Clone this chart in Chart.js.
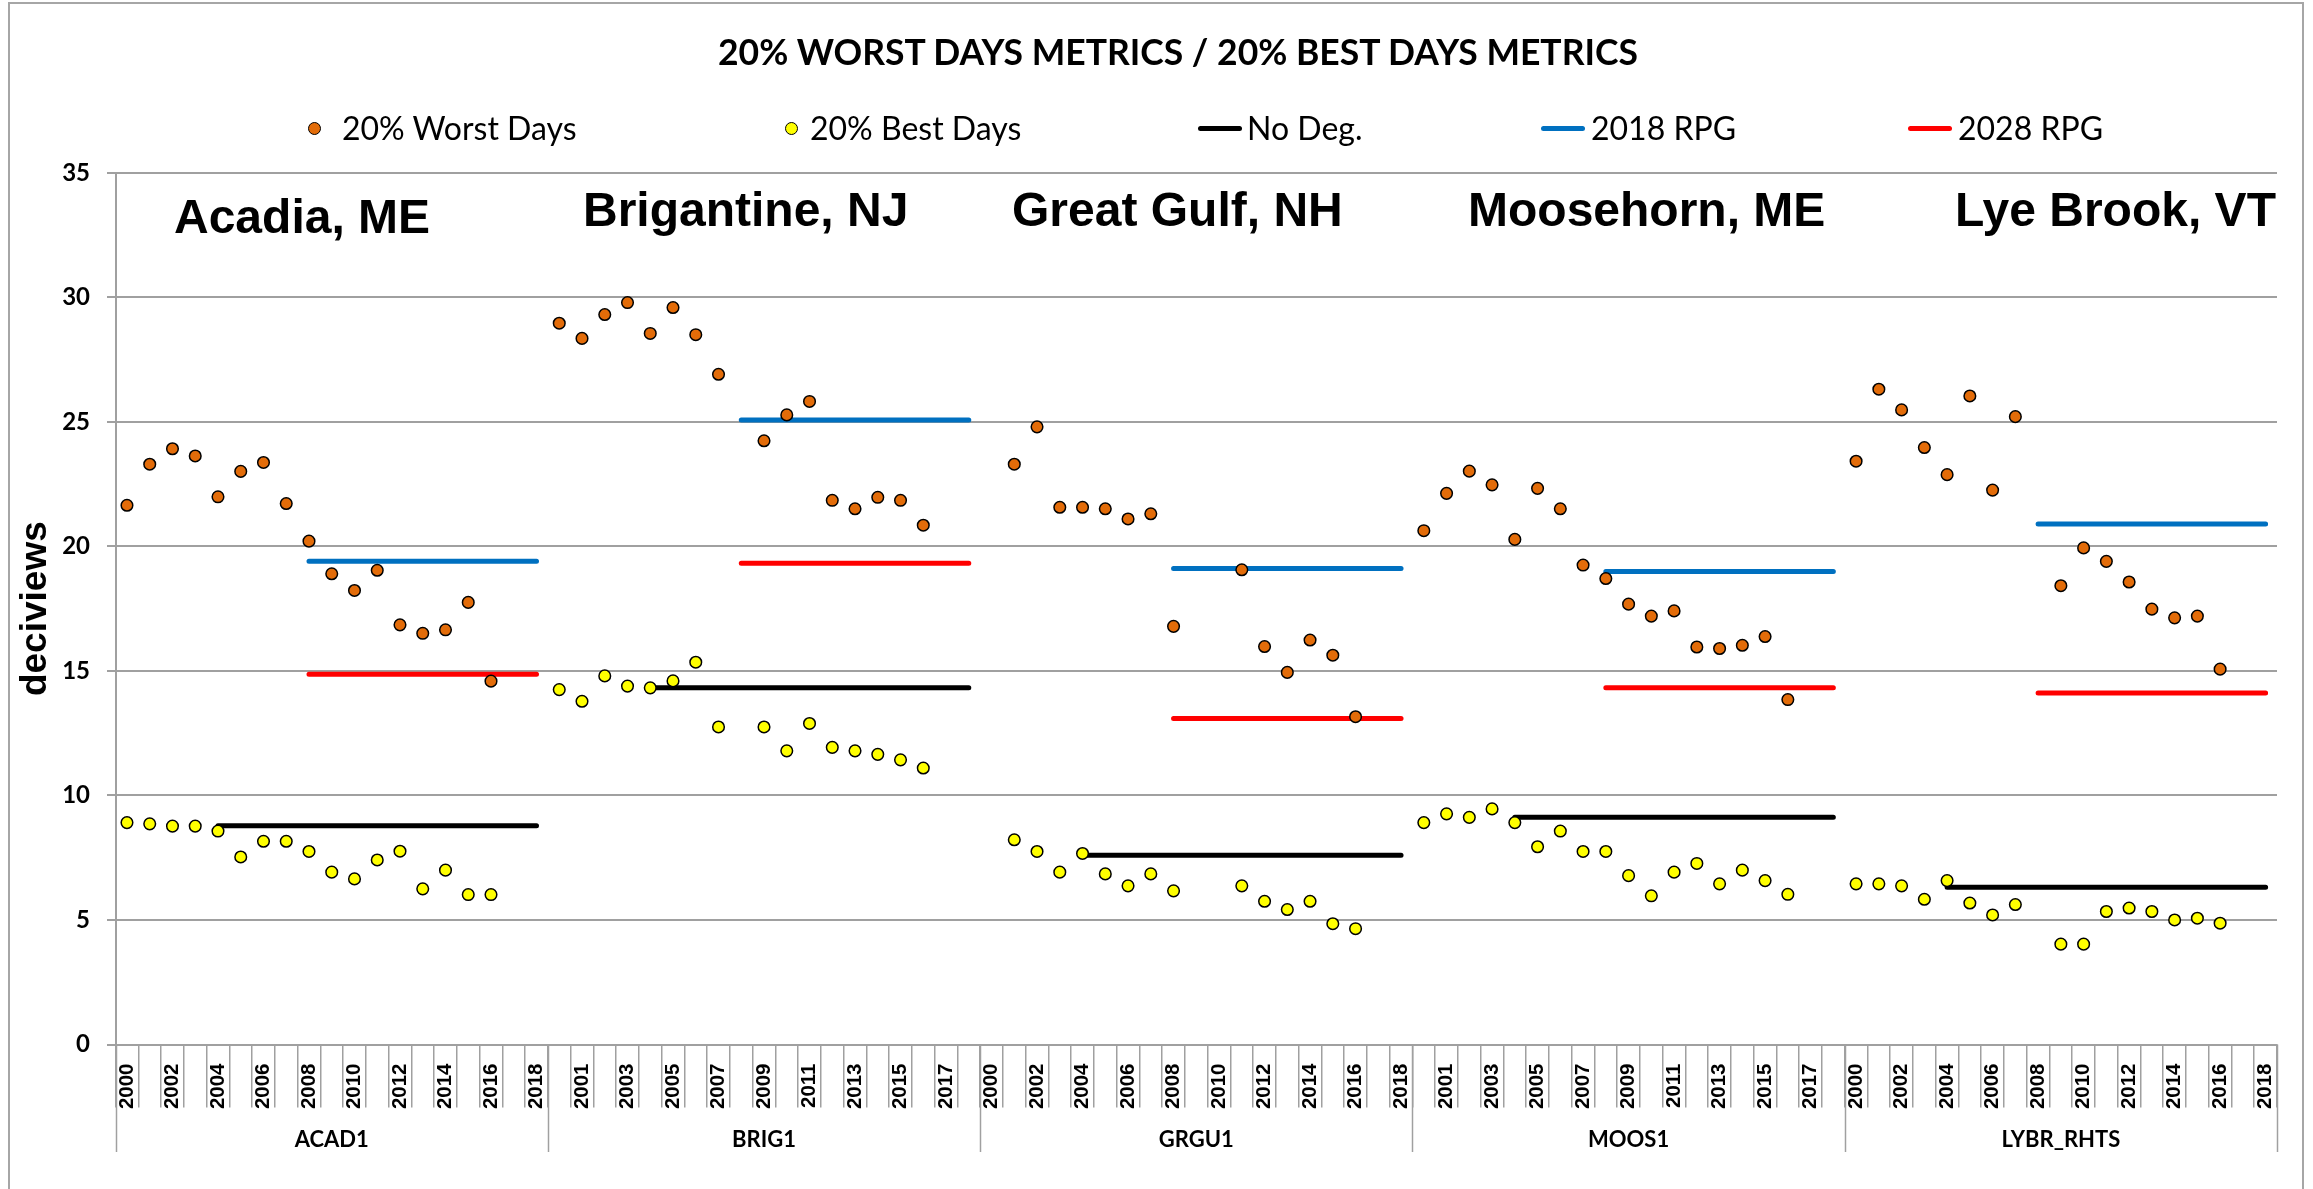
<!DOCTYPE html>
<html>
<head>
<meta charset="utf-8">
<script src="https://cdn.jsdelivr.net/npm/chart.js@4.4.1/dist/chart.umd.min.js"></script>
<style>
  html, body { margin: 0; padding: 0; background: #fff; }
  body { width: 2313px; height: 1189px; position: relative; overflow: hidden; font-family: Lato, sans-serif; }
  #marco { position: absolute; left: 8px; top: 2px; width: 2296px; height: 1220px; border: 2px solid #a6a6a6; border-bottom: none; box-sizing: border-box; }
  #grafico { position: absolute; left: 0; top: 0; }
  #titulo { position: absolute; top: 34px; left: 1178px; transform: translateX(-50%); white-space: nowrap;
            font: bold 35.5px/1 Lato, sans-serif; color: #000; }
  .leyenda { position: absolute; top: 112px; height: 32px; font: 32px/1 Lato, sans-serif; color: #000; white-space: nowrap; }
  .punto { position: absolute; width: 11px; height: 11px; border: 1.5px solid #000; border-radius: 50%; }
  .raya { position: absolute; height: 5px; border-radius: 3px; }
  .sitio { position: absolute; font: bold 48px/1 "Liberation Sans", Arial, sans-serif; color: #000; white-space: nowrap; }
</style>
</head>
<body>
<div id="marco"></div>
<canvas id="grafico" width="2313" height="1189" style="width:2313px;height:1189px"></canvas>
<div id="titulo">20% WORST DAYS METRICS / 20% BEST DAYS METRICS</div>
<div id="capaLeyenda"></div>
<div id="capaSitios"></div>
<script>
// Años de cada sitio (2000-2018)
const anios = [2000, 2001, 2002, 2003, 2004, 2005, 2006, 2007, 2008, 2009,
               2010, 2011, 2012, 2013, 2014, 2015, 2016, 2017, 2018];
const sitios = ['ACAD1', 'BRIG1', 'GRGU1', 'MOOS1', 'LYBR_RHTS'];
const nombresSitios = ['Acadia, ME', 'Brigantine, NJ', 'Great Gulf, NH', 'Moosehorn, ME', 'Lye Brook, VT'];

// 20% peores días (deciviews), null = sin dato
const peoresACAD = [21.65, 23.30, 23.92, 23.63, 21.99, 23.01, 23.37, 21.72, 20.21, 18.90, 18.23, 19.04, 16.85, 16.51, 16.65, 17.75, 14.59, null, null];
const peoresBRIG = [28.96, 28.35, 29.31, 29.79, 28.55, 29.59, 28.50, 26.91, null, 24.24, 25.28, 25.82, 21.85, 21.51, 21.97, 21.85, 20.85, null, null];
const peoresGRGU = [null, 23.30, 24.80, 21.57, 21.57, 21.51, 21.10, 21.31, 16.79, null, null, 19.06, 15.98, 14.94, 16.24, 15.63, 13.16, null, null];
const peoresMOOS = [20.63, 22.13, 23.02, 22.47, 20.28, 22.33, 21.51, 19.25, 18.71, 17.68, 17.20, 17.41, 15.96, 15.90, 16.03, 16.38, 13.85, null, null];
const peoresLYBR = [23.42, 26.31, 25.48, 23.97, 22.88, 26.04, 22.26, 25.21, null, 18.42, 19.94, 19.40, 18.57, 17.48, 17.13, 17.20, 15.07, null, null];

// 20% mejores días (deciviews)
const mejoresACAD = [8.91, 8.86, 8.77, 8.77, 8.57, 7.53, 8.16, 8.16, 7.75, 6.92, 6.65, 7.41, 7.76, 6.25, 7.00, 6.02, 6.02, null, null];
const mejoresBRIG = [14.25, 13.78, 14.80, 14.39, 14.32, 14.60, 15.35, 12.75, null, 12.75, 11.79, 12.89, 11.93, 11.79, 11.65, 11.43, 11.10, null, null];
const mejoresGRGU = [null, 8.22, 7.75, 6.92, 7.67, 6.85, 6.37, 6.85, 6.17, null, null, 6.37, 5.75, 5.42, 5.75, 4.85, 4.65, null, null];
const mejoresMOOS = [8.91, 9.26, 9.12, 9.46, 8.91, 7.94, 8.57, 7.75, 7.75, 6.78, 5.97, 6.92, 7.27, 6.45, 7.00, 6.58, 6.03, null, null];
const mejoresLYBR = [6.45, 6.45, 6.37, 5.83, 6.58, 5.68, 5.20, 5.62, null, 4.03, 4.03, 5.34, 5.48, 5.34, 5.00, 5.07, 4.87, null, null];

// Líneas de referencia por sitio
const sinDegradacion = [8.78, 14.32, 7.60, 9.12, 6.31];
const rpg2018 = [19.40, 25.07, 19.11, 18.99, 20.90];
const rpg2028 = [14.87, 19.32, 13.09, 14.32, 14.11];
const inicioSinDeg = 2004;
const inicioRPG = 2008;

const ticksY = [0, 5, 10, 15, 20, 25, 30, 35];

// Armar las series para el eje de 95 categorías
const etiquetas = sitios.flatMap(() => anios.map(String));
const peores = [].concat(peoresACAD, peoresBRIG, peoresGRGU, peoresMOOS, peoresLYBR);
const mejores = [].concat(mejoresACAD, mejoresBRIG, mejoresGRGU, mejoresMOOS, mejoresLYBR);

function lineaPorSitio(valores, desde) {
  return sitios.flatMap((s, i) => anios.map(a => a >= desde ? valores[i] : null));
}

const naranja = '#E36C09';
const gris = '#a0a0a0';

// Decoración del eje x: separadores de grupo y nombres de estación
const ejeCategorias = {
  id: 'ejeCategorias',
  afterDraw(chart) {
    const x = chart.scales.x;
    const ctx = chart.ctx;
    const abajo = chart.chartArea.bottom;
    const ancho = x.getPixelForValue(1) - x.getPixelForValue(0);
    ctx.save();
    ctx.strokeStyle = gris;
    ctx.lineWidth = 1.5;
    for (let g = 0; g <= sitios.length; g++) {
      const px = Math.round(x.getPixelForValue(g * anios.length) - ancho / 2) + 0.5;
      ctx.beginPath();
      ctx.moveTo(px, abajo);
      ctx.lineTo(px, 1152);
      ctx.stroke();
    }
    ctx.fillStyle = '#000';
    ctx.font = 'bold 22px Lato';
    ctx.textAlign = 'center';
    ctx.textBaseline = 'alphabetic';
    sitios.forEach((s, g) => {
      const centro = x.getPixelForValue(g * anios.length + 9);
      ctx.fillText(s, centro, 1147);
    });
    ctx.restore();
  }
};

new Chart(document.getElementById('grafico'), {
  type: 'line',
  data: {
    labels: etiquetas,
    datasets: [
      {
        label: '20% Worst Days',
        data: peores,
        showLine: false,
        pointRadius: 5.8,
        pointBorderWidth: 1.5,
        pointBackgroundColor: naranja,
        pointBorderColor: '#000',
        backgroundColor: naranja,
        borderColor: '#000'
      },
      {
        label: '20% Best Days',
        data: mejores,
        showLine: false,
        pointRadius: 5.8,
        pointBorderWidth: 1.5,
        pointBackgroundColor: '#FFFF00',
        pointBorderColor: '#000',
        backgroundColor: '#FFFF00',
        borderColor: '#000'
      },
      {
        label: 'No Deg.',
        data: lineaPorSitio(sinDegradacion, inicioSinDeg),
        borderColor: '#000000',
        borderWidth: 5,
        borderCapStyle: 'round',
        pointRadius: 0,
        spanGaps: false
      },
      {
        label: '2018 RPG',
        data: lineaPorSitio(rpg2018, inicioRPG),
        borderColor: '#0070C0',
        borderWidth: 5,
        borderCapStyle: 'round',
        pointRadius: 0,
        spanGaps: false
      },
      {
        label: '2028 RPG',
        data: lineaPorSitio(rpg2028, inicioRPG),
        borderColor: '#FF0000',
        borderWidth: 5,
        borderCapStyle: 'round',
        pointRadius: 0,
        spanGaps: false
      }
    ]
  },
  options: {
    responsive: false,
    maintainAspectRatio: false,
    animation: false,
    devicePixelRatio: 1,
    layout: { padding: { left: 6, top: 172.8, right: 36, bottom: 0 } },
    plugins: {
      legend: { display: false },
      title: { display: false },
      tooltip: { enabled: false }
    },
    scales: {
      x: {
        offset: true,
        afterFit: s => { s.height = 1189 - 1044.5; },
        grid: {
          offset: true,
          drawOnChartArea: false,
          drawTicks: true,
          tickLength: 63,
          color: gris,
          lineWidth: 1.5
        },
        border: { display: true, color: gris, width: 2 },
        ticks: {
          autoSkip: false,
          minRotation: 90,
          maxRotation: 90,
          padding: -44,
          color: '#000',
          font: { family: 'Liberation Sans', weight: 'bold', size: 20.5 },
          callback: function (val, idx) {
            return idx % 2 === 0 ? this.getLabelForValue(val) : '';
          }
        }
      },
      y: {
        min: ticksY[0],
        max: ticksY[ticksY.length - 1],
        afterFit: s => { s.width = 115.6 - 6; },
        afterBuildTicks: s => { s.ticks = ticksY.map(v => ({ value: v })); },
        grid: { color: gris, lineWidth: 2, tickLength: 8.6 },
        border: { display: true, color: gris, width: 2 },
        ticks: {
          padding: 17,
          color: '#000',
          font: { family: 'Lato', weight: 'bold', size: 24 }
        },
        title: {
          display: true,
          text: 'deciviews',
          color: '#000',
          padding: { top: 8, bottom: 0 },
          font: { family: 'Liberation Sans', weight: 'bold', size: 37 }
        }
      }
    }
  },
  plugins: [ejeCategorias]
});

// Leyenda (posiciones como en la lámina original)
const itemsLeyenda = [
  { texto: '20% Worst Days', tipo: 'punto', color: naranja, marca: 308, txt: 342 },
  { texto: '20% Best Days', tipo: 'punto', color: '#FFFF00', marca: 785, txt: 810 },
  { texto: 'No Deg.', tipo: 'raya', color: '#000000', marca: 1198, txt: 1247 },
  { texto: '2018 RPG', tipo: 'raya', color: '#0070C0', marca: 1541, txt: 1591 },
  { texto: '2028 RPG', tipo: 'raya', color: '#FF0000', marca: 1908, txt: 1958 }
];
const capaLeyenda = document.getElementById('capaLeyenda');
itemsLeyenda.forEach(it => {
  const m = document.createElement('div');
  m.className = it.tipo;
  m.style.background = it.color;
  m.style.left = it.marca + 'px';
  if (it.tipo === 'punto') {
    m.style.top = '122px';
  } else {
    m.style.top = '126px';
    m.style.width = '44px';
  }
  capaLeyenda.appendChild(m);
  const t = document.createElement('div');
  t.className = 'leyenda';
  t.style.left = it.txt + 'px';
  t.textContent = it.texto;
  capaLeyenda.appendChild(t);
});

// Nombres de las estaciones sobre el área de trazado
const posSitios = [[174, 193], [583, 186], [1012, 186], [1468, 186], [1955, 186]];
const capaSitios = document.getElementById('capaSitios');
nombresSitios.forEach((n, i) => {
  const d = document.createElement('div');
  d.className = 'sitio';
  d.style.left = posSitios[i][0] + 'px';
  d.style.top = posSitios[i][1] + 'px';
  d.textContent = n;
  capaSitios.appendChild(d);
});
</script>
</body>
</html>
